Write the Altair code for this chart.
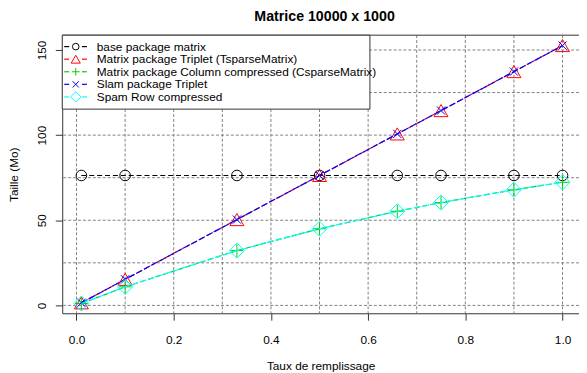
import altair as alt
import pandas as pd

# ---------------- data ----------------
fill_rate = [0.01, 0.1, 0.33, 0.5, 0.66, 0.75, 0.9, 1.0]
base_matrix = [76.3, 76.3, 76.3, 76.3, 76.3, 76.3, 76.3, 76.3]
matrix_triplet = [1.5, 15.3, 50.4, 76.3, 100.7, 114.4, 137.3, 152.6]
matrix_csparse = [1.1, 10.9, 32.2, 45.0, 55.3, 60.4, 67.9, 72.3]
slam_triplet = [1.5, 15.3, 50.4, 76.3, 100.7, 114.4, 137.3, 152.6]
spam_row = [1.1, 10.9, 32.2, 45.0, 55.3, 60.4, 67.9, 72.3]

series_labels = [
    "base package matrix",
    "Matrix package Triplet (TsparseMatrix)",
    "Matrix package Column compressed (CsparseMatrix)",
    "Slam package Triplet",
    "Spam Row compressed",
]
series_values = [base_matrix, matrix_triplet, matrix_csparse, slam_triplet, spam_row]

x_ticks = [0.0, 0.2, 0.4, 0.6, 0.8, 1.0]
y_ticks = [0, 50, 100, 150]
x_grid = [0.0, 0.1, 0.2, 0.3, 0.4, 0.5, 0.6, 0.7, 0.8, 0.9, 1.0]
y_grid = [0, 25, 50, 75, 100, 125, 150]

title_text = "Matrice 10000 x 1000"
x_title = "Taux de remplissage"
y_title = "Taille (Mo)"

# ---------------- styles ----------------
FONT = "Liberation Sans"
colors = ["#000000", "#FF0000", "#00CD00", "#0000FF", "#00FFFF"]
dashes = [[5, 3], [5, 3], [5, 3], [7, 2], [7, 2]]
PLUS = "M-1,0L1,0M0,-1L0,1"
XMARK = "M-1,-1L1,1M-1,1L1,-1"
shapes = ["circle", "triangle-up", PLUS, XMARK, "diamond"]
plot_sizes = [115, 200, 170, 70, 234]
legend_sizes = [45, 85, 60, 40, 110]

W, H = 524, 282
xscale = alt.Scale(domain=[-0.0294, 1.0339], nice=False, zero=False)
yscale = alt.Scale(domain=[-4.63, 158.7], nice=False, zero=False)

xaxis = alt.Axis(
    values=x_ticks, format=".1f", title=x_title, grid=False,
    tickSize=7, tickColor="#333333", domainColor="#333333",
    labelFont=FONT, labelFontSize=12, labelColor="black", labelPadding=15,
    labelFlush=False, labelOverlap=False,
    titleFont=FONT, titleFontSize=12, titleFontWeight="normal", titleColor="black",
    titleX=W / 2, titleY=53, titleBaseline="middle", titleAlign="center",
)
yaxis = alt.Axis(
    values=y_ticks, title=y_title, grid=False,
    tickSize=7, tickColor="#333333", domainColor="#333333",
    labelFont=FONT, labelFontSize=12, labelColor="black", labelPadding=14,
    labelAngle=270, labelAlign="center", labelBaseline="middle",
    labelFlush=False, labelOverlap=False,
    titleFont=FONT, titleFontSize=12, titleFontWeight="normal", titleColor="black",
    titleAngle=270, titleX=-49, titleY=H / 2, titleBaseline="middle", titleAlign="center",
)

X = alt.X("x:Q", scale=xscale, axis=xaxis)
Y = alt.Y("y:Q", scale=yscale, axis=yaxis)

layers = []

# grid
layers.append(
    alt.Chart(pd.DataFrame({"x": x_grid}))
    .mark_rule(color="#808080", strokeDash=[3, 2], strokeWidth=1)
    .encode(x=X)
)
layers.append(
    alt.Chart(pd.DataFrame({"y": y_grid}))
    .mark_rule(color="#808080", strokeDash=[3, 2], strokeWidth=1)
    .encode(y=Y)
)

# series
for i, vals in enumerate(series_values):
    df = pd.DataFrame({"x": fill_rate, "y": vals})
    layers.append(
        alt.Chart(df).mark_line(color=colors[i], strokeDash=dashes[i], strokeWidth=1.2)
        .encode(x=X, y=Y)
    )
    layers.append(
        alt.Chart(df).mark_point(shape=shapes[i], size=plot_sizes[i], filled=False,
                                 color=colors[i], strokeWidth=1, opacity=1)
        .encode(x=X, y=Y)
    )

# top border of the box
one = pd.DataFrame({"k": [0]})
layers.append(
    alt.Chart(one).mark_rule(color="#333333", strokeWidth=1)
    .encode(x=alt.value(0), x2=alt.value(W), y=alt.value(0))
)

# legend
LX0, LX1, LY0, LY1 = 0, 312, 0, 75
layers.append(
    alt.Chart(one).mark_rect(fill="white", stroke="#333333", strokeWidth=1)
    .encode(x=alt.value(LX0), x2=alt.value(LX1), y=alt.value(LY0), y2=alt.value(LY1))
)
for i, lab in enumerate(series_labels):
    yy = 11.6 + i * 12.75
    for a, b in [(2, 7), (20, 25)]:
        layers.append(
            alt.Chart(one).mark_rule(color=colors[i], strokeWidth=1.2)
            .encode(x=alt.value(a), x2=alt.value(b), y=alt.value(yy))
        )
    layers.append(
        alt.Chart(one).mark_point(shape=shapes[i], size=legend_sizes[i], filled=False,
                                  color=colors[i], strokeWidth=1, opacity=1)
        .encode(x=alt.value(13.7), y=alt.value(yy))
    )
    layers.append(
        alt.Chart(pd.DataFrame({"t": [lab]}))
        .mark_text(align="left", baseline="middle", font=FONT, fontSize=12, color="black")
        .encode(x=alt.value(35), y=alt.value(yy), text="t:N")
    )

chart = (
    alt.layer(*layers)
    .properties(
        width=W, height=H,
        title=alt.TitleParams(title_text, font=FONT, fontSize=14.4, fontWeight="bold",
                              color="black", anchor="middle", baseline="alphabetic",
                              offset=13, dy=14, dx=4),
        autosize=alt.AutoSizeParams(type="none"),
        padding={"left": 55, "top": 25, "right": 0, "bottom": 58},
        background="white",
    )
    .configure_view(strokeWidth=0)
)

chart.save("out.html", embed_options={"renderer": "svg", "actions": False})
